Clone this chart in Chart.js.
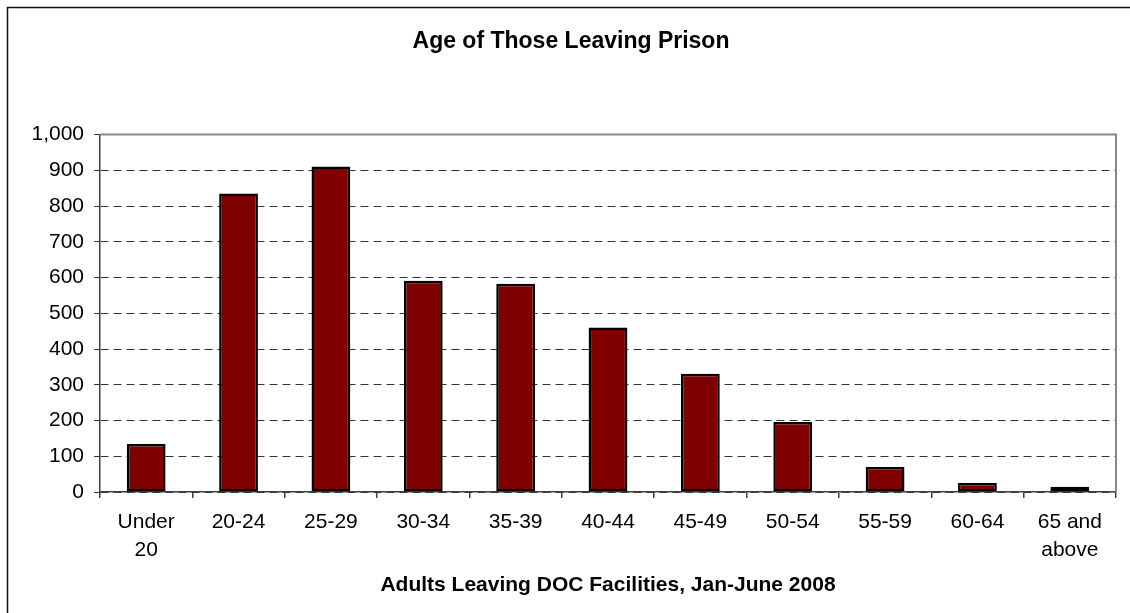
<!DOCTYPE html>
<html>
<head>
<meta charset="utf-8">
<script src="https://cdn.jsdelivr.net/npm/chart.js@4"></script>
<style>
  html, body { margin: 0; padding: 0; background: #fff; }
  #wrap { position: relative; width: 1130px; height: 613px; }
</style>
</head>
<body>
<div id="wrap"><canvas id="ageChart"></canvas></div>
<script>
// age groups and counts
const ageGroups = [['Under', '20'], '20-24', '25-29', '30-34', '35-39', '40-44', '45-49', '50-54', '55-59', '60-64', ['65 and', 'above']];
const adultsLeaving = [134, 835, 911, 591, 583, 460, 331, 196, 70, 25, 15];
const yTicks = [0, 1000, 100]; // min, max, step

const chartTitle = 'Age of Those Leaving Prison';
const xTitle = 'Adults Leaving DOC Facilities, Jan-June 2008';

const FONT = 'Liberation Sans, Arial, Helvetica, sans-serif';

// outer frame + grey plot-area border (top and right)
const frames = {
    id: 'frames',
    beforeDraw(chart) {
        const ctx = chart.ctx;
        ctx.save();
        ctx.fillStyle = '#fff';
        ctx.fillRect(0, 0, chart.width, chart.height);
        ctx.strokeStyle = '#111';
        ctx.lineWidth = 1.5;
        ctx.strokeRect(7.5, 7.5, chart.width + 20, chart.height + 20);
        ctx.restore();
    },
    beforeDatasetsDraw(chart) {
        const { ctx, chartArea: a } = chart;
        ctx.save();
        ctx.strokeStyle = '#888';
        ctx.lineWidth = 2;
        ctx.beginPath();
        ctx.moveTo(a.left, a.top);
        ctx.lineTo(a.right, a.top);
        ctx.lineTo(a.right, a.bottom);
        ctx.stroke();
        ctx.restore();
    }
};

new Chart(document.getElementById('ageChart'), {
    type: 'bar',
    data: {
        labels: ageGroups,
        datasets: [{
            data: adultsLeaving,
            backgroundColor: '#800000',
            borderColor: '#000',
            borderWidth: 2.5,
            borderSkipped: false,
            categoryPercentage: 1,
            barPercentage: 0.42
        }]
    },
    options: {
        responsive: true,
        maintainAspectRatio: false,
        animation: false,
        layout: { padding: { left: 26, right: 14, top: 0, bottom: 0 } },
        plugins: {
            legend: { display: false },
            tooltip: { enabled: false },
            title: {
                display: true,
                text: chartTitle,
                color: '#000',
                font: { family: FONT, size: 23, weight: 'bold', lineHeight: 1.2 },
                padding: { top: 28, bottom: 79 }
            }
        },
        scales: {
            x: {
                grid: { drawOnChartArea: false, offset: true, tickLength: 6, color: '#404040', lineWidth: 1.5 },
                border: { color: '#404040', width: 1.5 },
                ticks: {
                    color: '#000',
                    padding: 11,
                    maxRotation: 0,
                    autoSkip: false,
                    font: { family: FONT, size: 21, lineHeight: 1.3 }
                },
                title: {
                    display: true,
                    text: xTitle,
                    color: '#000',
                    font: { family: FONT, size: 21, weight: 'bold', lineHeight: 1.2 },
                    padding: { top: 0, bottom: 15 }
                },
                afterFit(scale) { scale.height = 121; }
            },
            y: {
                min: yTicks[0],
                max: yTicks[1],
                grid: { color: '#333', tickLength: 6, lineWidth: 1 },
                border: { color: '#404040', width: 1.5, dash: [8, 5] },
                ticks: {
                    stepSize: yTicks[2],
                    color: '#000',
                    padding: 10,
                    font: { family: FONT, size: 21 },
                    callback: v => v.toLocaleString('en-US')
                },
                afterFit(scale) { scale.width = 74; }
            }
        }
    },
    plugins: [frames]
});
</script>
</body>
</html>
